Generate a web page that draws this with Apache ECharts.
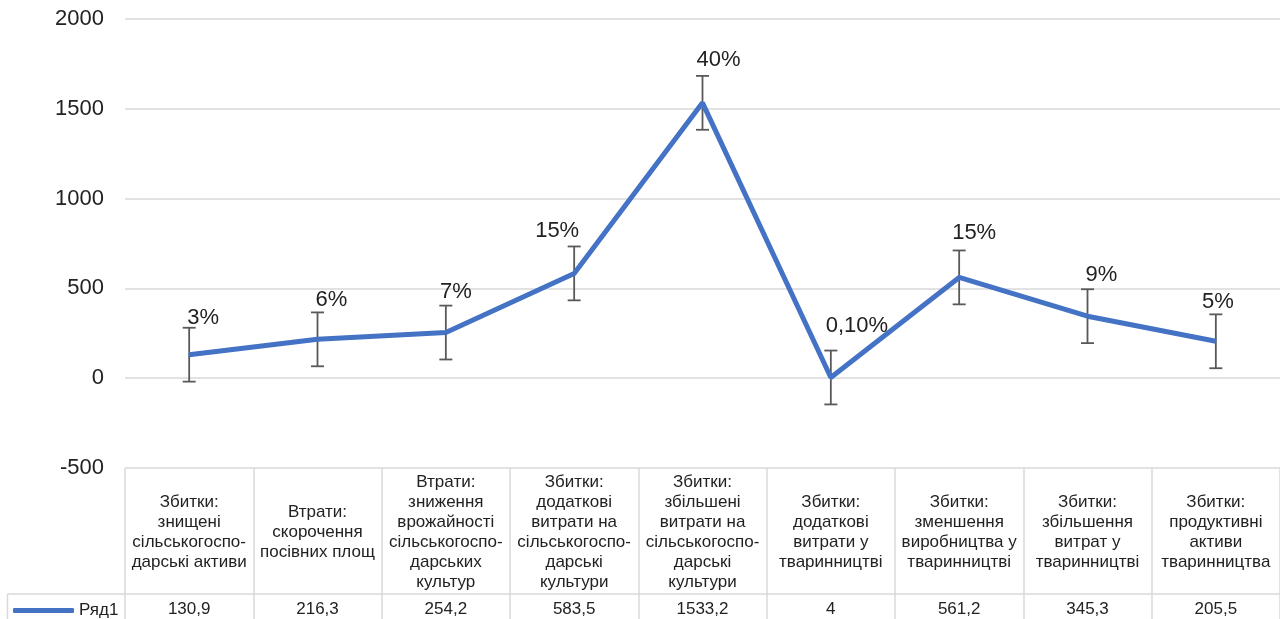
<!DOCTYPE html>
<html><head><meta charset="utf-8">
<script src="https://cdn.jsdelivr.net/npm/echarts@6/dist/echarts.min.js"></script>
<style>html,body{margin:0;padding:0;background:#fff}#c{width:1280px;height:619px}</style>
</head><body><div id="c"></div>
<script>
var categories = [
  "Збитки:\nзнищені\nсільськогоспо-\nдарські активи",
  "Втрати:\nскорочення\nпосівних площ",
  "Втрати:\nзниження\nврожайності\nсільськогоспо-\nдарських\nкультур",
  "Збитки:\nдодаткові\nвитрати на\nсільськогоспо-\nдарські\nкультури",
  "Збитки:\nзбільшені\nвитрати на\nсільськогоспо-\nдарські\nкультури",
  "Збитки:\nдодаткові\nвитрати у\nтваринництві",
  "Збитки:\nзменшення\nвиробництва у\nтваринництві",
  "Збитки:\nзбільшення\nвитрат у\nтваринництві",
  "Збитки:\nпродуктивні\nактиви\nтваринництва"
];
var values = [130.9, 216.3, 254.2, 583.5, 1533.2, 4, 561.2, 345.3, 205.5];
var percentLabels = ["3%", "6%", "7%", "15%", "40%", "0,10%", "15%", "9%", "5%"];
var errorAmount = [150, 150, 150, 150, 150, 150, 150, 150, 150];
var seriesName = "Ряд1";

// label nudges (layout only, in pixels) to mimic manually placed labels
var labelNudgeX = [14, 14, 10, -17, 16, 26, 15, 14, 2];
var labelNudgeY = [-36, -38, -40, -41, -42, -51, -43, -40, -38];

var FONT = "'Liberation Sans', Arial, sans-serif";
var GRID_LEFT = 125, GRID_BOTTOM = 151;

var chart = echarts.init(document.getElementById('c'));
chart.setOption({
  animation: false,
  textStyle: {fontFamily: FONT},
  grid: {left: GRID_LEFT, right: 0, top: 19, bottom: GRID_BOTTOM},
  legend: {
    show: true, left: 8, top: 597, data: [seriesName],
    icon: 'roundRect', itemWidth: 61, itemHeight: 5, itemGap: 5,
    textStyle: {fontSize: 17, color: '#222', fontFamily: FONT},
    selectedMode: false
  },
  xAxis: [{
    type: 'category', data: categories, boundaryGap: true, position: 'bottom',
    axisLine: {show: false, onZero: false},
    axisTick: {show: true, length: 152, interval: 0, lineStyle: {color: '#d9d9d9', width: 1.5}},
    axisLabel: {interval: 0, margin: 64, verticalAlign: 'middle', fontSize: 17, lineHeight: 20, color: '#222', fontFamily: FONT, align: 'center'}
  }, {
    type: 'category', data: values.map(function(v){return String(v).replace('.', ',');}),
    boundaryGap: true, position: 'bottom', offset: 126,
    axisLine: {show: true, onZero: false, lineStyle: {color: '#d9d9d9', width: 1.5}},
    axisTick: {show: false},
    axisLabel: {interval: 0, margin: 15, verticalAlign: 'middle', fontSize: 17, color: '#222', fontFamily: FONT}
  }],
  yAxis: {
    type: 'value', min: -500, max: 2000, interval: 500,
    axisLine: {show: false}, axisTick: {show: false},
    axisLabel: {fontSize: 22, color: '#222', margin: 21, fontFamily: FONT,
      formatter: function(v){ return String(v); }},
    splitLine: {lineStyle: {color: '#d9d9d9', width: 1.5}}
  },
  graphic: [
    {type: 'line', shape: {x1: 7.5, y1: 594, x2: GRID_LEFT, y2: 594}, style: {stroke: '#d9d9d9', lineWidth: 1.5}},
    {type: 'line', shape: {x1: 7.5, y1: 594, x2: 7.5, y2: 619}, style: {stroke: '#d9d9d9', lineWidth: 1.5}}
  ],
  series: [{
    name: seriesName, type: 'line', xAxisIndex: 0,
    data: values.map(function(v, i){
      return {value: v, label: {offset: [labelNudgeX[i], labelNudgeY[i]]}};
    }),
    symbol: 'circle', symbolSize: 2, showSymbol: true,
    itemStyle: {color: '#4472C4'},
    lineStyle: {color: '#4472C4', width: 5},
    label: {
      show: true, position: 'top', distance: 0, align: 'center', verticalAlign: 'middle',
      fontSize: 22, color: '#222', fontFamily: FONT,
      formatter: function(p){ return percentLabels[p.dataIndex]; }
    },
    z: 3
  }, {
    type: 'custom', xAxisIndex: 0, z: 2,
    data: values.map(function(v, i){ return [i, v - errorAmount[i], v + errorAmount[i]]; }),
    renderItem: function(params, api){
      var lo = api.coord([api.value(0), api.value(1)]);
      var hi = api.coord([api.value(0), api.value(2)]);
      var hw = 6.5;
      var st = {stroke: '#595959', lineWidth: 1.8};
      return {type: 'group', children: [
        {type: 'line', shape: {x1: hi[0], y1: hi[1], x2: lo[0], y2: lo[1]}, style: st},
        {type: 'line', shape: {x1: hi[0]-hw, y1: hi[1], x2: hi[0]+hw, y2: hi[1]}, style: st},
        {type: 'line', shape: {x1: lo[0]-hw, y1: lo[1], x2: lo[0]+hw, y2: lo[1]}, style: st}
      ]};
    }
  }]
});
</script></body></html>
